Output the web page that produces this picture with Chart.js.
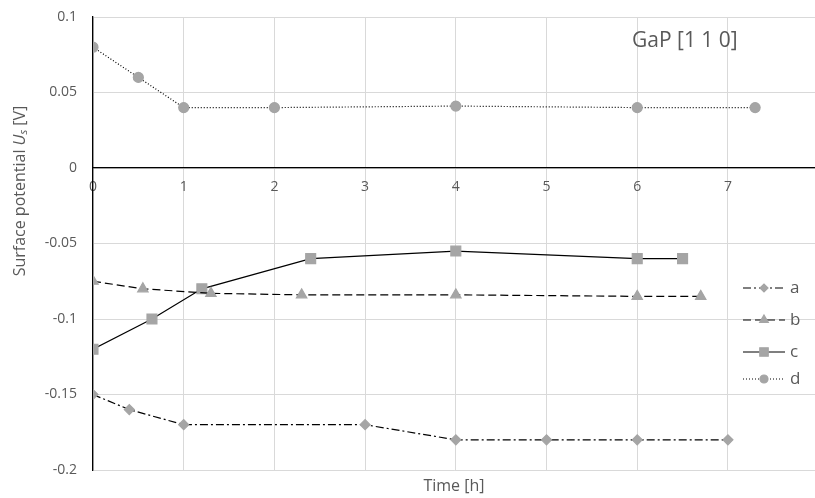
<!DOCTYPE html>
<html>
<head>
<meta charset="utf-8">
<script src="https://cdn.jsdelivr.net/npm/chart.js@4/dist/chart.umd.min.js"></script>
<style>
	body { margin: 0; background: #fff; }
	#wrap { width: 815px; height: 498px; }
</style>
</head>
<body>
<div id="wrap"><canvas id="line-chartcanvas" width="815" height="498"></canvas></div>
<script>
// series values (time in hours, potential in volts)
var timeA = [0, 0.4, 1, 3, 4, 5, 6, 7];
var valA  = [-0.15, -0.16, -0.17, -0.17, -0.18, -0.18, -0.18, -0.18];

var timeB = [0, 0.55, 1.3, 2.3, 4, 6, 6.7];
var valB  = [-0.075, -0.08, -0.083, -0.084, -0.084, -0.085, -0.085];

var timeC = [0, 0.65, 1.2, 2.4, 4, 6, 6.5];
var valC  = [-0.12, -0.1, -0.08, -0.06, -0.055, -0.06, -0.06];

var timeD = [0, 0.5, 1, 2, 4, 6, 7.3];
var valD  = [0.08, 0.06, 0.04, 0.04, 0.041, 0.04, 0.04];

var seriesNames = ["a", "b", "c", "d"];
var xTicks = [0, 1, 2, 3, 4, 5, 6, 7];
var yTicks = [0.1, 0.05, 0, -0.05, -0.1, -0.15, -0.2];

function points(xs, ys) {
	return xs.map(function(x, i) { return { x: x, y: ys[i] }; });
}

var grey = "#a5a5a5";
var textCol = "#595959";
var font = "'Open Sans', sans-serif";

function series(name, pts, dash, style, radius) {
	return {
		label : name,
		data : pts,
		borderColor : "#000",
		borderWidth : 1.2,
		borderDash : dash,
		backgroundColor : grey,
		pointBackgroundColor : grey,
		pointBorderColor : grey,
		pointStyle : style,
		pointRadius : radius,
		fill : false,
		tension : 0
	};
}

var data = {
	datasets : [
		series(seriesNames[0], points(timeA, valA), [8, 3, 2, 3], "rectRot", 5),
		series(seriesNames[1], points(timeB, valB), [8, 4], "triangle", 6),
		series(seriesNames[2], points(timeC, valC), [], "rect", 7),
		series(seriesNames[3], points(timeD, valD), [1, 2], "circle", 5)
	]
};

// y axis title with italic U and subscript s, plus the legend and the GaP label
var extras = {
	id : "extras",
	afterDraw : function(chart) {
		var ctx = chart.ctx;

		// y title
		var parts = [
			{ t : "Surface potential ", f : "16px " + font, dy : 0 },
			{ t : "U", f : "italic 16px " + font, dy : 0 },
			{ t : "s", f : "italic 11px " + font, dy : 4 },
			{ t : " [V]", f : "16px " + font, dy : 0 }
		];
		ctx.save();
		var total = 0;
		parts.forEach(function(p) { ctx.font = p.f; p.w = ctx.measureText(p.t).width; total += p.w; });
		ctx.translate(20, 191);
		ctx.rotate(-Math.PI / 2);
		ctx.fillStyle = textCol;
		ctx.textBaseline = "middle";
		ctx.textAlign = "left";
		var px = -total / 2;
		parts.forEach(function(p) {
			ctx.font = p.f;
			ctx.fillText(p.t, px, p.dy);
			px += p.w;
		});
		ctx.restore();

		// legend
		var legendY = [288, 320, 352, 379];
		chart.data.datasets.forEach(function(ds, i) {
			var y = legendY[i];
			ctx.save();
			ctx.strokeStyle = ds.borderColor;
			ctx.lineWidth = ds.borderWidth;
			ctx.setLineDash(ds.borderDash || []);
			ctx.beginPath();
			ctx.moveTo(743, y);
			ctx.lineTo(785, y);
			ctx.stroke();
			ctx.setLineDash([]);
			ctx.fillStyle = grey;
			ctx.strokeStyle = grey;
			Chart.helpers.drawPoint(ctx, { pointStyle : ds.pointStyle, radius : ds.pointRadius - 1, rotation : 0, borderWidth : 1 }, 764, y);
			ctx.fillStyle = textCol;
			ctx.font = "17px " + font;
			ctx.textBaseline = "middle";
			ctx.textAlign = "left";
			ctx.fillText(ds.label, 790, y);
			ctx.restore();
		});

		// panel label
		ctx.save();
		ctx.fillStyle = textCol;
		ctx.font = "21px " + font;
		ctx.textBaseline = "middle";
		ctx.textAlign = "left";
		ctx.fillText("GaP [1 1 0]", 632, 41);
		ctx.restore();
	}
};

var options = {
	responsive : false,
	animation : false,
	layout : { autoPadding : false, padding : { top : 17, right : 0, left : 0, bottom : 0 } },
	plugins : {
		legend : { display : false },
		tooltip : { enabled : false }
	},
	scales : {
		x : {
			type : "linear",
			position : { y : 0 },
			min : 0,
			max : 7.96,
			afterBuildTicks : function(scale) {
				scale.ticks = xTicks.map(function(v) { return { value : v }; });
			},
			ticks : {
				color : textCol,
				font : { family : font, size : 14 },
				padding : 11,
				maxRotation : 0,
				autoSkip : false
			},
			grid : { color : "#d9d9d9", lineWidth : 1, drawTicks : false },
			border : { color : "#000", width : 1.3 },
			afterFit : function(scale) { scale.paddingLeft = 0; scale.paddingRight = 0; }
		},
		x2 : {
			type : "linear",
			position : "bottom",
			min : 0,
			max : 8,
			ticks : { display : false },
			grid : { display : false, drawTicks : false },
			border : { display : false },
			title : {
				display : true,
				text : "Time [h]",
				color : textCol,
				font : { family : font, size : 16 },
				padding : { top : 4, bottom : 2 }
			},
			afterFit : function(scale) { scale.height = 28; scale.paddingLeft = 0; scale.paddingRight = 0; }
		},
		y : {
			type : "linear",
			min : -0.2,
			max : 0.1,
			afterBuildTicks : function(scale) {
				scale.ticks = yTicks.map(function(v) { return { value : v }; });
			},
			ticks : {
				color : textCol,
				font : { family : font, size : 14 },
				padding : 16,
				autoSkip : false,
				callback : function(v) { return String(Math.round(v * 100) / 100); }
			},
			grid : { color : "#d9d9d9", lineWidth : 1, drawTicks : false },
			border : { color : "#000", width : 1.3 },
			afterFit : function(scale) { scale.width = 93; scale.paddingTop = 0; scale.paddingBottom = 0; }
		}
	}
};

var chart = new Chart(document.getElementById("line-chartcanvas"), {
	type : "line",
	data : data,
	options : options,
	plugins : [extras]
});
</script>
</body>
</html>
